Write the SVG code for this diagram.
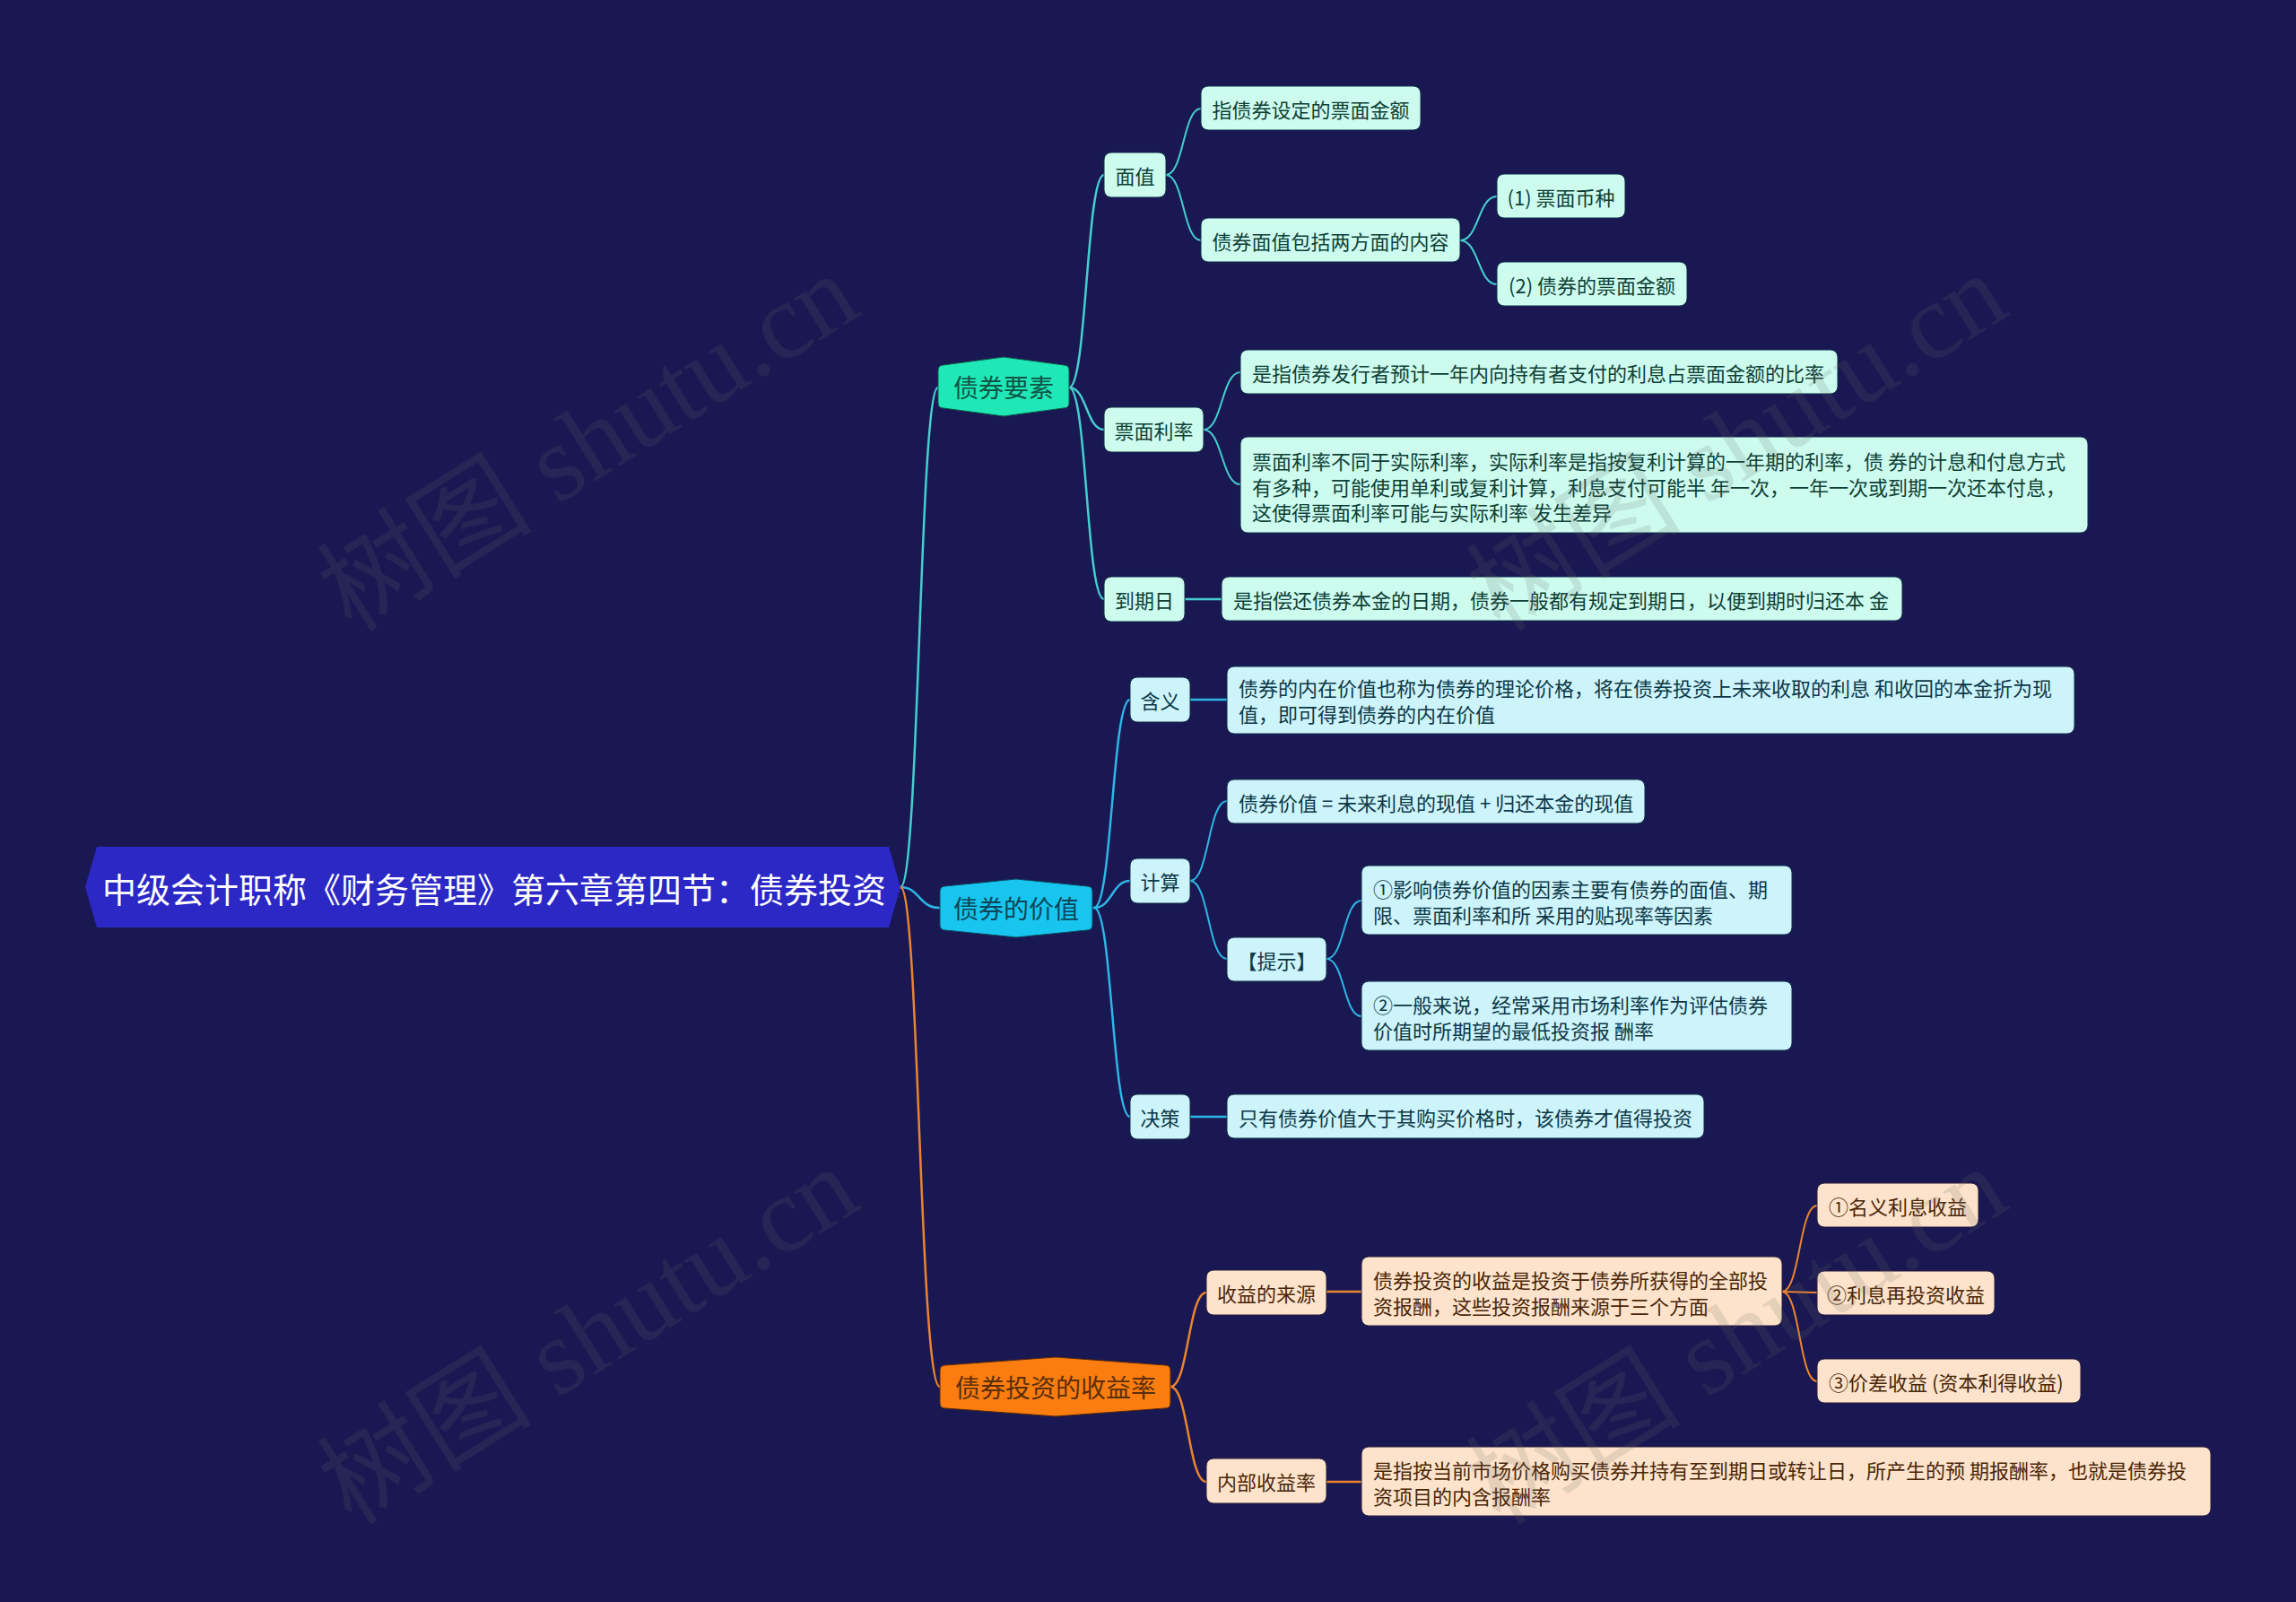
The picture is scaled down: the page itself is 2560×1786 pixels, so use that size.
<svg xmlns="http://www.w3.org/2000/svg" width="2560" height="1786" viewBox="0 0 2560 1786">
<defs>
<style>
text{font-family:"Noto Sans CJK SC","Liberation Sans",sans-serif;dominant-baseline:central}
.t22{font-size:22px}
.mid{text-anchor:middle}
.c1{fill:none;stroke:#44cfd0;stroke-width:2.5;stroke-linecap:round}
.c2{fill:none;stroke:#2cb7e6;stroke-width:2.5;stroke-linecap:round}
.c3{fill:none;stroke:#ea842e;stroke-width:2.5;stroke-linecap:round}
.thin{stroke-width:2}
.bm{fill:#cdfbee;stroke:#0f2e48;stroke-width:1}
.bc{fill:#cdf3fb;stroke:#0f2e48;stroke-width:1}
.bp{fill:#fde3cb;stroke:#2a1c3a;stroke-width:1}
.tm{fill:#0d3f36}
.tc{fill:#0c3846}
.tp{fill:#4a2608}
.wm{font-family:"Liberation Serif","Noto Sans CJK SC",serif;font-size:120px;fill:#6a6a6a;opacity:0.16;dominant-baseline:alphabetic}
</style>
</defs>
<rect x="0" y="0" width="2560" height="1786" fill="#1a1852"/>

<g id="connectors">
<path class="c1" d="M1004 989 C1025 989 1025 432 1046 432"/>
<path class="c2" d="M1004 989 C1025 989 1025 1012 1047 1012"/>
<path class="c3" d="M1004 989 C1025 989 1025 1546 1048 1546"/>
<path class="c1" d="M1192 432 C1212 432 1211 195 1231 195"/>
<path class="c1" d="M1192 432 C1212 432 1211 479 1231 479"/>
<path class="c1" d="M1192 432 C1212 432 1211 668 1231 668"/>
<path class="c1 thin" d="M1300 195 C1320 195 1319 121 1339 121"/>
<path class="c1 thin" d="M1300 195 C1320 195 1319 268 1339 268"/>
<path class="c1 thin" d="M1628 268 C1649 268 1648 219 1669 219"/>
<path class="c1 thin" d="M1628 268 C1649 268 1648 317 1669 317"/>
<path class="c1 thin" d="M1342 479 C1363 479 1362 415 1383 415"/>
<path class="c1 thin" d="M1342 479 C1363 479 1362 540 1383 540"/>
<path class="c1" d="M1321 668 L1362 668"/>
<path class="c2" d="M1220 1012 C1240 1012 1240 780 1260 780"/>
<path class="c2" d="M1220 1012 C1240 1012 1240 982 1260 982"/>
<path class="c2" d="M1220 1012 C1240 1012 1240 1245 1260 1245"/>
<path class="c2" d="M1327 780 L1368 780"/>
<path class="c2 thin" d="M1327 982 C1348 982 1347 893 1368 893"/>
<path class="c2 thin" d="M1327 982 C1348 982 1347 1069 1368 1069"/>
<path class="c2 thin" d="M1479 1069 C1499 1069 1498 1004 1518 1004"/>
<path class="c2 thin" d="M1479 1069 C1499 1069 1498 1133 1518 1133"/>
<path class="c2" d="M1327 1245 L1368 1245"/>
<path class="c3" d="M1305 1546 C1325 1546 1325 1441 1345 1441"/>
<path class="c3" d="M1305 1546 C1325 1546 1325 1652 1345 1652"/>
<path class="c3" d="M1479 1440 L1518 1440"/>
<path class="c3 thin" d="M1987 1440 C2007 1440 2006 1344 2026 1344"/>
<path class="c3 thin" d="M1987 1440 L2026 1441"/>
<path class="c3 thin" d="M1987 1440 C2007 1440 2006 1540 2026 1540"/>
<path class="c3" d="M1479 1652 L1518 1652"/>
</g>

<g id="root">
<polygon points="95,989 108,944 991,944 1004,989 991,1034 108,1034" fill="#2b28c6"/>
<text x="551" y="989" class="mid" font-size="38" fill="#ffffff">中级会计职称《财务管理》第六章第四节：债券投资</text>
</g>

<g id="n-zqys">
<path d="M1046 413 Q1046 407 1052 407 L1119 398 L1186 407 Q1192 407 1192 413 L1192 449 Q1192 455 1186 455 L1119 464 L1052 455 Q1046 455 1046 449 Z" fill="#1fe8b6" stroke="#0f5a4a" stroke-width="1"/>
<text x="1119" y="431" class="mid" font-size="28" fill="#0f5446">债券要素</text>
</g>
<g id="n-zqjz">
<path d="M1048 994 Q1048 988 1054 988 L1133 980 L1212 988 Q1218 988 1218 994 L1218 1031 Q1218 1037 1212 1037 L1133 1045 L1054 1037 Q1048 1037 1048 1031 Z" fill="#18c5ee" stroke="#0c4a60" stroke-width="1"/>
<text x="1133" y="1012" class="mid" font-size="28" fill="#0b4658">债券的价值</text>
</g>
<g id="n-syl">
<path d="M1048 1528 Q1048 1522 1054 1522 L1177 1513 L1299 1522 Q1305 1522 1305 1528 L1305 1564 Q1305 1570 1299 1570 L1177 1579 L1054 1570 Q1048 1570 1048 1564 Z" fill="#fb7d0f" stroke="#5a2a0a" stroke-width="1"/>
<text x="1177" y="1546" class="mid" font-size="28" fill="#5a2e0a">债券投资的收益率</text>
</g>

<g id="n-mz"><rect class="bm" x="1231" y="170" width="69" height="50" rx="8"/><text class="t22 tm mid" x="1265.5" y="195">面值</text></g>
<g id="n-mz1"><rect class="bm" x="1339" y="96" width="245" height="49" rx="8"/><text class="t22 tm mid" x="1461.5" y="120.5">指债券设定的票面金额</text></g>
<g id="n-mz2"><rect class="bm" x="1339" y="243" width="289" height="49" rx="8"/><text class="t22 tm mid" x="1483.5" y="267.5">债券面值包括两方面的内容</text></g>
<g id="n-mz21"><rect class="bm" x="1669" y="194" width="143" height="49" rx="8"/><text class="t22 tm mid" x="1740.5" y="218.5">(1) 票面币种</text></g>
<g id="n-mz22"><rect class="bm" x="1669" y="292" width="212" height="49" rx="8"/><text class="t22 tm mid" x="1775" y="316.5">(2) 债券的票面金额</text></g>
<g id="n-pmll"><rect class="bm" x="1231" y="454" width="111" height="50" rx="8"/><text class="t22 tm mid" x="1286.5" y="479">票面利率</text></g>
<g id="n-pmll1"><rect class="bm" x="1383" y="390" width="666" height="49" rx="8"/><text class="t22 tm" x="1396" y="414.5">是指债券发行者预计一年内向持有者支付的利息占票面金额的比率</text></g>
<g id="n-pmll2"><rect class="bm" x="1383" y="487" width="945" height="107" rx="8"/>
<text class="t22 tm" x="1396" y="513">票面利率不同于实际利率，实际利率是指按复利计算的一年期的利率，债 券的计息和付息方式</text>
<text class="t22 tm" x="1396" y="541.5">有多种，可能使用单利或复利计算，利息支付可能半 年一次，一年一次或到期一次还本付息，</text>
<text class="t22 tm" x="1396" y="570">这使得票面利率可能与实际利率 发生差异</text></g>
<g id="n-dqr"><rect class="bm" x="1231" y="643" width="90" height="50" rx="8"/><text class="t22 tm mid" x="1276" y="668">到期日</text></g>
<g id="n-dqr1"><rect class="bm" x="1362" y="643" width="759" height="49" rx="8"/><text class="t22 tm" x="1375" y="667.5">是指偿还债券本金的日期，债券一般都有规定到期日，以便到期时归还本 金</text></g>

<g id="n-hy"><rect class="bc" x="1260" y="755" width="67" height="50" rx="8"/><text class="t22 tc mid" x="1293.5" y="780">含义</text></g>
<g id="n-hy1"><rect class="bc" x="1368" y="743" width="945" height="75" rx="8"/>
<text class="t22 tc" x="1381" y="766">债券的内在价值也称为债券的理论价格，将在债券投资上未来收取的利息 和收回的本金折为现</text>
<text class="t22 tc" x="1381" y="795">值，即可得到债券的内在价值</text></g>
<g id="n-js"><rect class="bc" x="1260" y="957" width="67" height="50" rx="8"/><text class="t22 tc mid" x="1293.5" y="982">计算</text></g>
<g id="n-js1"><rect class="bc" x="1368" y="869" width="466" height="49" rx="8"/><text class="t22 tc" x="1381" y="893.5">债券价值 = 未来利息的现值 + 归还本金的现值</text></g>
<g id="n-ts"><rect class="bc" x="1368" y="1045" width="111" height="49" rx="8"/><text class="t22 tc mid" x="1423.5" y="1069.5">【提示】</text></g>
<g id="n-ts1"><rect class="bc" x="1518" y="965" width="480" height="77" rx="8"/>
<text class="t22 tc" x="1531" y="990">①影响债券价值的因素主要有债券的面值、期</text>
<text class="t22 tc" x="1531" y="1019">限、票面利率和所 采用的贴现率等因素</text></g>
<g id="n-ts2"><rect class="bc" x="1518" y="1094" width="480" height="77" rx="8"/>
<text class="t22 tc" x="1531" y="1119">②一般来说，经常采用市场利率作为评估债券</text>
<text class="t22 tc" x="1531" y="1148">价值时所期望的最低投资报 酬率</text></g>
<g id="n-jc"><rect class="bc" x="1260" y="1220" width="67" height="50" rx="8"/><text class="t22 tc mid" x="1293.5" y="1245">决策</text></g>
<g id="n-jc1"><rect class="bc" x="1368" y="1220" width="532" height="49" rx="8"/><text class="t22 tc" x="1381" y="1244.5">只有债券价值大于其购买价格时，该债券才值得投资</text></g>

<g id="n-syly"><rect class="bp" x="1345" y="1416" width="134" height="50" rx="8"/><text class="t22 tp mid" x="1412" y="1441">收益的来源</text></g>
<g id="n-syly1"><rect class="bp" x="1518" y="1401" width="469" height="77" rx="8"/>
<text class="t22 tp" x="1531" y="1426">债券投资的收益是投资于债券所获得的全部投</text>
<text class="t22 tp" x="1531" y="1455">资报酬，这些投资报酬来源于三个方面</text></g>
<g id="n-sy1"><rect class="bp" x="2026" y="1319" width="180" height="49" rx="8"/><text class="t22 tp mid" x="2116" y="1343.5">①名义利息收益</text></g>
<g id="n-sy2"><rect class="bp" x="2026" y="1417" width="198" height="49" rx="8"/><text class="t22 tp mid" x="2125" y="1441.5">②利息再投资收益</text></g>
<g id="n-sy3"><rect class="bp" x="2026" y="1515" width="294" height="49" rx="8"/><text class="t22 tp" x="2039" y="1539.5">③价差收益 (资本利得收益)</text></g>
<g id="n-nbsyl"><rect class="bp" x="1345" y="1626" width="134" height="50" rx="8"/><text class="t22 tp mid" x="1412" y="1651">内部收益率</text></g>
<g id="n-nbsyl1"><rect class="bp" x="1518" y="1613" width="947" height="77" rx="8"/>
<text class="t22 tp" x="1531" y="1638">是指按当前市场价格购买债券并持有至到期日或转让日，所产生的预 期报酬率，也就是债券投</text>
<text class="t22 tp" x="1531" y="1667">资项目的内含报酬率</text></g>

<g id="watermarks">
<text class="wm" transform="translate(392,706) rotate(-32)">树图 shutu.cn</text>
<text class="wm" transform="translate(392,1702) rotate(-32)">树图 shutu.cn</text>
<text class="wm" transform="translate(1673,706) rotate(-32)">树图 shutu.cn</text>
<text class="wm" transform="translate(1673,1702) rotate(-32)">树图 shutu.cn</text>
</g>
</svg>
